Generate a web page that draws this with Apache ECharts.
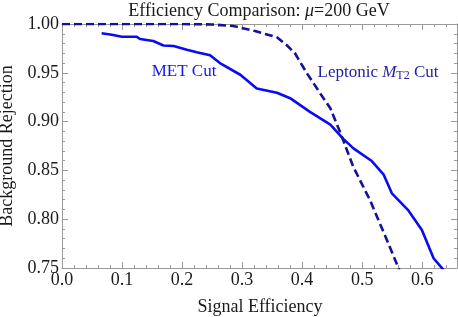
<!DOCTYPE html>
<html>
<head>
<meta charset="utf-8">
<script src="https://cdn.jsdelivr.net/npm/echarts@6/dist/echarts.min.js"></script>
<style>
html,body{margin:0;padding:0;background:#fff;}
#chart{width:458px;height:317px;}
</style>
</head>
<body>
<div id="chart"></div>
<script>
// Data
var metX = [0.066,0.083,0.0995,0.124,0.130,0.152,0.169,0.186,0.208,0.2245,0.2467,0.263,0.297,0.3245,0.358,0.38,0.413,0.447,0.469,0.4855,0.516,0.5355,0.5495,0.577,0.5995,0.619,0.6355];
var metY = [0.9905,0.989,0.987,0.987,0.9846,0.9826,0.978,0.9775,0.9737,0.971,0.968,0.960,0.948,0.934,0.9296,0.924,0.910,0.897,0.882,0.8726,0.8596,0.846,0.8265,0.809,0.789,0.760,0.748];
var lepX = [0.0,0.1,0.2,0.25,0.285,0.32,0.358,0.375,0.388,0.408,0.43,0.447,0.463,0.485,0.513,0.541,0.5605,0.57];
var lepY = [1.0,1.0,1.0,0.9995,0.998,0.993,0.9864,0.978,0.970,0.9495,0.929,0.9136,0.8896,0.854,0.8196,0.779,0.75,0.735];
var xTicks = [0.0,0.1,0.2,0.3,0.4,0.5,0.6];
var yTicks = [0.75,0.80,0.85,0.90,0.95,1.00];
var titleText = 'Efficiency Comparison: ';
var xName = 'Signal Efficiency';
var yName = 'Background Rejection';

function pair(xs, ys){ return xs.map(function(x,i){ return [x, ys[i]]; }); }

var FONT = '"Liberation Serif", "DejaVu Serif", serif';
var GRID_COLOR = '#9a9a9a';
var chart = echarts.init(document.getElementById('chart'), null, {renderer:'canvas'});

function xFmt(v){
  for (var i=0;i<xTicks.length;i++){ if (Math.abs(v-xTicks[i])<1e-6) return xTicks[i].toFixed(1); }
  return '';
}
function yFmt(v){
  for (var i=0;i<yTicks.length;i++){ if (Math.abs(v-yTicks[i])<1e-6) return yTicks[i].toFixed(2); }
  return '';
}

var tickCommon = {show:true, inside:true, length:6, lineStyle:{color:GRID_COLOR, width:1}};
var minorCommon = {show:true, splitNumber:5, length:3, lineStyle:{color:GRID_COLOR, width:1}};
var lineCommon = {show:true, onZero:false, lineStyle:{color:GRID_COLOR, width:1}};

var xBase = {type:'value', min:0, max:0.658, interval:0.1, axisLine:lineCommon, axisTick:tickCommon, minorTick:minorCommon, splitLine:{show:false}};
var yBase = {type:'value', min:0.75, max:1.0, interval:0.05, axisLine:lineCommon, axisTick:tickCommon, minorTick:minorCommon, splitLine:{show:false}};

chart.setOption({
  animation:false,
  backgroundColor:'#fff',
  grid:{left:62, top:24, right:1, bottom:49, containLabel:false, outerBoundsMode:'none'},
  xAxis:[
    Object.assign({}, xBase, {position:'bottom', axisLabel:{show:true, margin:3, fontFamily:FONT, fontSize:18, color:'#1a1a1a', formatter:xFmt, showMaxLabel:false}}),
    Object.assign({}, xBase, {position:'top', axisLabel:{show:false}})
  ],
  yAxis:[
    Object.assign({}, yBase, {position:'left', axisLabel:{show:true, margin:3, fontFamily:FONT, fontSize:18, color:'#1a1a1a', formatter:yFmt},
      name:yName, nameLocation:'middle', nameRotate:90, nameGap:42, nameTextStyle:{fontFamily:FONT, fontSize:18, color:'#1a1a1a'}}),
    Object.assign({}, yBase, {position:'right', axisLabel:{show:false}})
  ],
  series:[
    {type:'line', name:'MET Cut', xAxisIndex:0, yAxisIndex:0, data:pair(metX, metY), showSymbol:false, symbol:'none', clip:true,
     lineStyle:{color:'#0a0af5', width:2.6}},
    {type:'line', name:'Leptonic MT2 Cut', xAxisIndex:0, yAxisIndex:0, data:pair(lepX, lepY), showSymbol:false, symbol:'none', clip:true,
     lineStyle:{color:'#12129a', width:2.6, type:[8,4]}}
  ],
  graphic:[
    {type:'text', x:259, y:11, z:10,
     style:{text:'{n|'+titleText+'}{i|μ}{n|=200 GeV}', align:'center', verticalAlign:'middle', rich:{n:{fontFamily:FONT, fontSize:18, fill:'#1a1a1a'}, i:{fontFamily:FONT, fontSize:18, fontStyle:'italic', fill:'#1a1a1a'}}}},
    {type:'text', x:260, y:307, z:10,
     style:{text:xName, fontFamily:FONT, fontSize:18, fill:'#1a1a1a', align:'center', verticalAlign:'middle'}},
    {type:'text', x:184, y:72, z:10,
     style:{text:'MET Cut', fontFamily:FONT, fontSize:17, fill:'#1515f0', align:'center', verticalAlign:'middle'}},
    {type:'text', x:378, y:73, z:10,
     style:{text:'{n|Leptonic }{i|M}{s|T2}{n| Cut}', align:'center', verticalAlign:'middle',
       rich:{n:{fontFamily:FONT, fontSize:17, fill:'#24249a'}, i:{fontFamily:FONT, fontSize:17, fontStyle:'italic', fill:'#24249a'}, s:{fontFamily:FONT, fontSize:12, fill:'#24249a', verticalAlign:'bottom', padding:[6,0,0,0]}}}}
  ]
});
</script>
</body>
</html>
